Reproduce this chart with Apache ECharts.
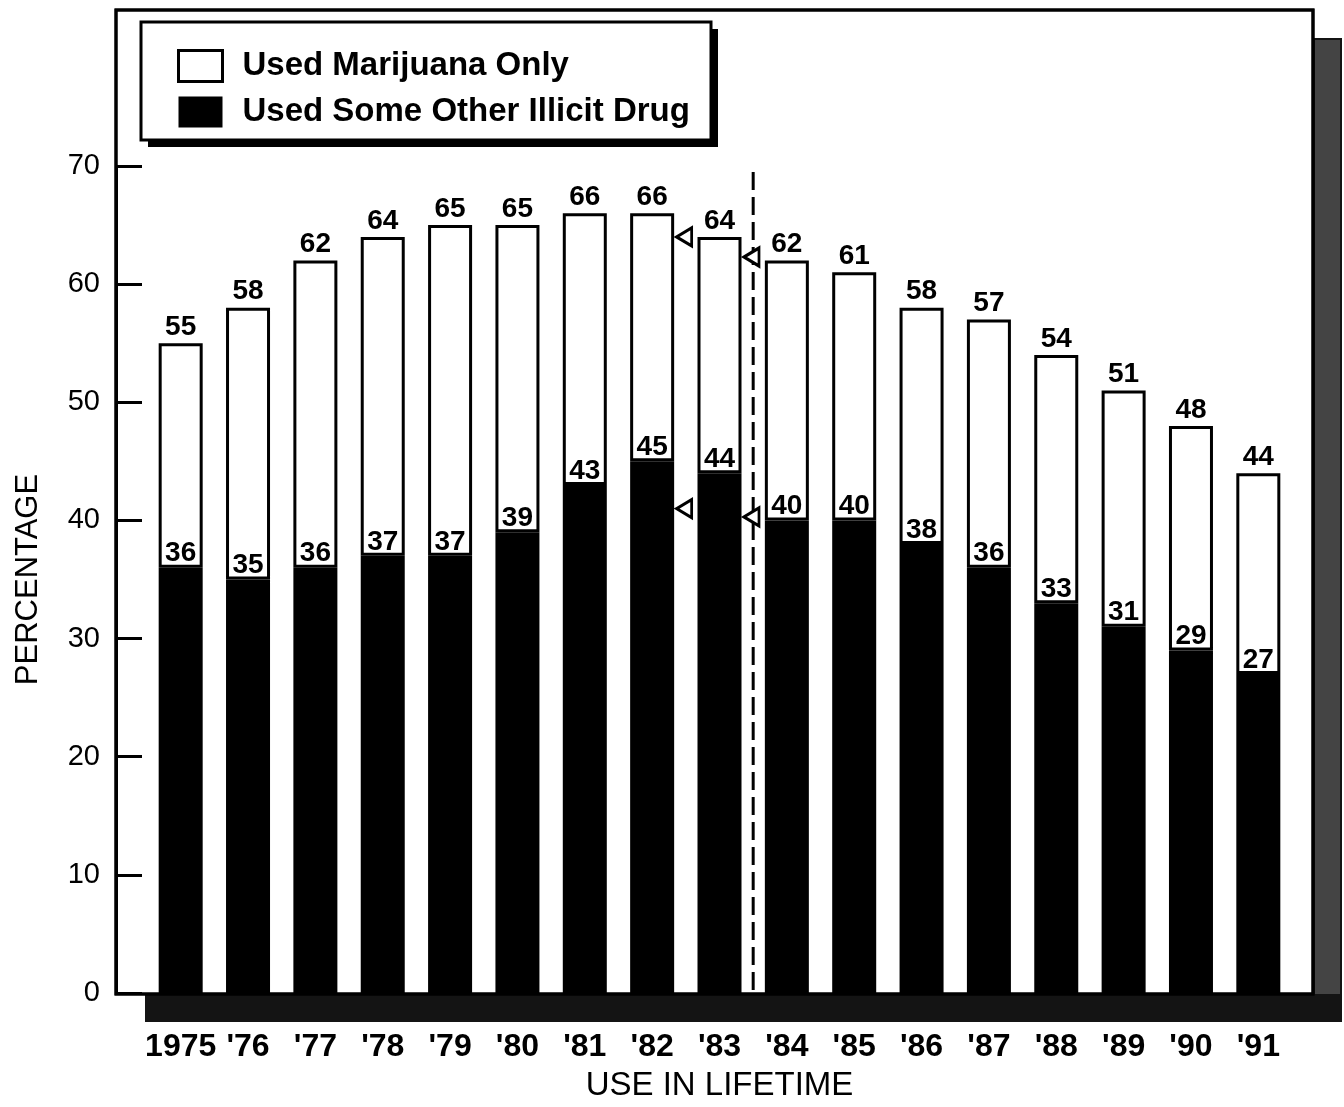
<!DOCTYPE html>
<html>
<head>
<meta charset="utf-8">
<title>Use in Lifetime</title>
<script src="https://cdn.jsdelivr.net/npm/echarts@6/dist/echarts.min.js"></script>
<style>
  html, body { margin: 0; padding: 0; background: #fff; }
  #chart { width: 1344px; height: 1107px; }
</style>
</head>
<body>
<div id="chart"></div>
<script>
// Survey years on the category axis
const years = ['1975', "'76", "'77", "'78", "'79", "'80", "'81", "'82", "'83",
               "'84", "'85", "'86", "'87", "'88", "'89", "'90", "'91"];

// Percentage who ever used any illicit drug (total bar height)
const totalUse = [55, 58, 62, 64, 65, 65, 66, 66, 64, 62, 61, 58, 57, 54, 51, 48, 44];

// Percentage who used some illicit drug other than marijuana (black segment)
const otherDrug = [36, 35, 36, 37, 37, 39, 43, 45, 44, 40, 40, 38, 36, 33, 31, 29, 27];

// Marijuana-only share is the remainder of each bar (white segment)
const marijuanaOnly = totalUse.map((t, i) => t - otherDrug[i]);

// Revised estimates shown with open triangle markers
const revisedYears = ["'82", "'83"];
const revisedTotal = [64, 62.3];
const revisedOther = [41, 40.3];

// Value-axis ticks
const yMin = 0, yMax = 70, yStep = 10;

const FONT = '"Liberation Sans", Arial, Helvetica, sans-serif';
const SERIES_WHITE = 'Used Marijuana Only';
const SERIES_BLACK = 'Used Some Other Illicit Drug';

const chart = echarts.init(document.getElementById('chart'), null, { renderer: 'canvas' });

// Frame, drop shadow and legend box decoration
const frame = { x: 116, y: 10, w: 1197, h: 984 };
const shadowOff = { x: 29, y: 28 };
const legendBox = { x: 141, y: 22, w: 570, h: 118 };

const triangleLeft = 'path://M0,10 L18,0 L18,20 Z';

const revisedPoints = [];
revisedYears.forEach((yr, i) => {
  revisedPoints.push([yr, revisedTotal[i]]);
  revisedPoints.push([yr, revisedOther[i]]);
});

const option = {
  animation: false,
  backgroundColor: '#fff',
  textStyle: { fontFamily: FONT, color: '#000' },
  grid: { left: 147, right: 52, top: 166, bottom: 113, containLabel: false },
  legend: {
    orient: 'vertical',
    left: 172,
    top: 44,
    itemWidth: 44,
    itemHeight: 31,
    itemGap: 12,
    selectedMode: false,
    z: 10,
    textStyle: {
      fontFamily: FONT, fontSize: 33, fontWeight: 'bold', color: '#000',
      lineHeight: 34, padding: [0, 0, 0, 15]
    },
    data: [
      { name: SERIES_WHITE, icon: 'rect',
        itemStyle: { color: '#fff', borderColor: '#000', borderWidth: 3 } },
      { name: SERIES_BLACK, icon: 'rect',
        itemStyle: { color: '#000', borderColor: '#000', borderWidth: 0 } }
    ]
  },
  xAxis: {
    type: 'category',
    data: years,
    boundaryGap: true,
    axisLine: { show: false },
    axisTick: { show: false },
    axisLabel: {
      interval: 0, margin: 38,
      fontFamily: FONT, fontSize: 32, fontWeight: 'bold', color: '#000'
    },
    name: 'USE IN LIFETIME',
    nameLocation: 'middle',
    nameGap: 76,
    nameTextStyle: { fontFamily: FONT, fontSize: 33, color: '#000' }
  },
  yAxis: {
    type: 'value',
    min: yMin, max: yMax, interval: yStep,
    offset: 31,
    axisLine: { show: true, lineStyle: { color: '#000', width: 3 } },
    axisTick: { show: true, inside: true, length: 26, lineStyle: { color: '#000', width: 3 } },
    splitLine: { show: false },
    axisLabel: { margin: 16, fontFamily: FONT, fontSize: 29, color: '#000' },
    name: 'PERCENTAGE',
    nameLocation: 'middle',
    nameRotate: 90,
    nameGap: 72,
    nameTextStyle: { fontFamily: FONT, fontSize: 31, color: '#000' }
  },
  series: [
    {
      name: SERIES_BLACK,
      type: 'bar',
      stack: 'use',
      data: otherDrug,
      barWidth: 44,
      itemStyle: { color: '#000', borderColor: '#000', borderWidth: 3 },
      label: {
        show: true, position: 'top', distance: 0,
        fontFamily: FONT, fontSize: 28, fontWeight: 'bold', color: '#000'
      },
      z: 2
    },
    {
      name: SERIES_WHITE,
      type: 'bar',
      stack: 'use',
      data: marijuanaOnly,
      barWidth: 44,
      itemStyle: { color: '#fff', borderColor: '#000', borderWidth: 3 },
      label: {
        show: true, position: 'top', distance: 2,
        fontFamily: FONT, fontSize: 28, fontWeight: 'bold', color: '#000',
        formatter: p => String(totalUse[p.dataIndex])
      },
      z: 2
    },
    {
      name: 'Revised estimate',
      type: 'scatter',
      data: revisedPoints,
      symbol: triangleLeft,
      symbolSize: [15, 18],
      symbolOffset: [32, 0],
      itemStyle: { color: '#fff', borderColor: '#000', borderWidth: 3, opacity: 1 },
      emphasis: { disabled: true },
      z: 4
    }
  ],
  graphic: []
};

chart.setOption(option);

// Break between '83 and '84 survey methods: dashed vertical rule
const x83 = chart.convertToPixel({ xAxisIndex: 0 }, "'83");
const x84 = chart.convertToPixel({ xAxisIndex: 0 }, "'84");
const xBreak = (x83 + x84) / 2;
const yTop = chart.convertToPixel({ yAxisIndex: 0 }, 69.5);
const yBottom = chart.convertToPixel({ yAxisIndex: 0 }, 0);

chart.setOption({
  graphic: [
    // drop shadow behind the plot frame
    { type: 'rect', z: -10, silent: true,
      shape: { x: frame.x + shadowOff.x, y: frame.y + shadowOff.y, width: frame.w, height: frame.h },
      style: { fill: '#141414' } },
    { type: 'rect', z: -9, silent: true,
      shape: { x: frame.x + frame.w + 2, y: frame.y + shadowOff.y + 2, width: shadowOff.x - 4, height: frame.h - 30 },
      style: { fill: '#444' } },
    // white plot frame
    { type: 'rect', z: -8, silent: true,
      shape: { x: frame.x, y: frame.y, width: frame.w, height: frame.h },
      style: { fill: '#fff', stroke: '#000', lineWidth: 3 } },
    // frame outline drawn above the bars
    { type: 'rect', z: 5, silent: true,
      shape: { x: frame.x, y: frame.y, width: frame.w, height: frame.h },
      style: { fill: 'none', stroke: '#000', lineWidth: 3 } },
    // legend box with its shadow
    { type: 'rect', z: 6, silent: true,
      shape: { x: legendBox.x + 7, y: legendBox.y + 7, width: legendBox.w, height: legendBox.h },
      style: { fill: '#000' } },
    { type: 'rect', z: 7, silent: true,
      shape: { x: legendBox.x, y: legendBox.y, width: legendBox.w, height: legendBox.h },
      style: { fill: '#fff', stroke: '#000', lineWidth: 3 } },
    // dashed break line
    { type: 'line', z: 3, silent: true,
      shape: { x1: xBreak, y1: yTop, x2: xBreak, y2: yBottom },
      style: { stroke: '#000', lineWidth: 3, lineDash: [18, 7] } }
  ]
});
</script>
</body>
</html>
